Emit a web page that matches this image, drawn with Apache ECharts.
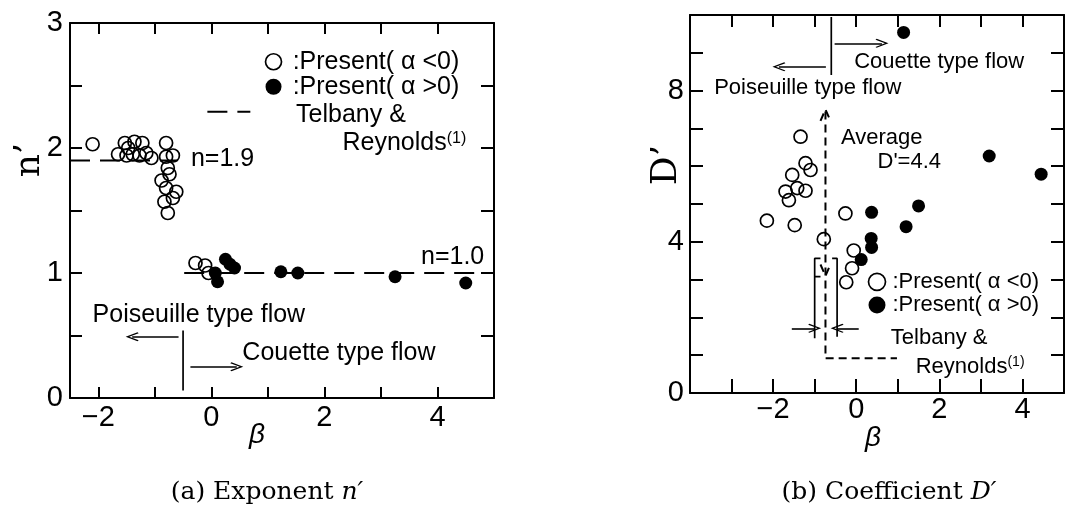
<!DOCTYPE html>
<html><head><meta charset="utf-8">
<script src="https://cdn.jsdelivr.net/npm/echarts@6/dist/echarts.min.js"></script>
<style>html,body{margin:0;padding:0;background:#fff}#c{width:1065px;height:514px}</style>
</head><body><div id="c"></div>
<script>
// ---------- (a) Exponent n' ----------
const leftOpen = [
  [-2.1, 2.03],
  [-1.53, 2.04], [-1.36, 2.05], [-1.22, 2.04], [-1.47, 2.0],
  [-1.65, 1.95], [-1.5, 1.94], [-1.39, 1.95], [-1.27, 1.94], [-1.15, 1.96], [-1.06, 1.92],
  [-0.8, 2.04], [-0.8, 1.93], [-0.68, 1.94], [-0.77, 1.84], [-0.74, 1.79], [-0.88, 1.74],
  [-0.8, 1.68], [-0.62, 1.65], [-0.68, 1.6], [-0.83, 1.57], [-0.77, 1.48],
  [-0.28, 1.08], [-0.11, 1.06], [-0.05, 1.0]
];
const leftFilled = [
  [0.07, 1.0], [0.11, 0.93], [0.25, 1.11], [0.33, 1.07], [0.41, 1.04],
  [1.23, 1.01], [1.53, 1.0], [3.25, 0.97], [4.5, 0.92]
];
const leftRefLines = [           // Telbany & Reynolds n=1.9 / n=1.0
  [[-2.5, 1.9], [-0.6, 1.9]],
  [[-0.48, 1.0], [5.0, 1.0]]
];
const leftSolid = [[[-0.5, 0.54], [-0.5, 0.06]]];
const leftArrows = [
  [[-0.58, 0.49], [-1.40, 0.49]],
  [[-0.37, 0.25], [0.45, 0.25]]
];
const leftTexts = [
  [':Present( α <0)', 1.43, 2.69],
  [':Present( α >0)', 1.43, 2.49],
  ['Telbany &', 1.49, 2.26],
  ['Reynolds{sup|(1)}', 2.31, 2.04],
  ['n=1.9', -0.37, 1.91],
  ['n=1.0', 3.7, 1.13],
  ['Poiseuille type flow', -2.11, 0.66],
  ['Couette type flow', 0.54, 0.36]
];
const leftLegendOpen = [[1.10, 2.69]];
const leftLegendFilled = [[1.10, 2.49]];
const leftLegendDash = [[-0.07, 2.29], [0.69, 2.29]];
const leftXTicks = [-2, -1, 0, 1, 2, 3, 4];
const leftXLabels = [-2, 0, 2, 4];
const leftYTicks = [0.5, 1, 1.5, 2, 2.5];
const leftYLabels = [0, 1, 2, 3];

// ---------- (b) Coefficient D' ----------
const rightOpen = [
  [-2.15, 4.56], [-1.48, 4.44], [-1.34, 6.78], [-1.22, 6.08], [-1.10, 5.9],
  [-1.54, 5.77], [-1.42, 5.42], [-1.22, 5.35], [-1.70, 5.33], [-1.62, 5.1],
  [-0.26, 4.75], [-0.78, 4.07], [-0.06, 3.77], [-0.1, 3.3], [-0.24, 2.93]
];
const rightFilled = [
  [1.14, 9.54], [3.2, 6.27], [4.45, 5.79], [1.5, 4.95], [0.37, 4.78],
  [1.2, 4.4], [0.36, 4.09], [0.37, 3.85], [0.12, 3.53]
];
const rightDashed = [
  [[-0.74, 7.45], [-0.74, 0.92], [0.98, 0.92]],
  [[-0.86, 7.2], [-0.74, 7.5], [-0.62, 7.2]],
  [[-0.86, 3.4], [-0.74, 3.1], [-0.62, 3.4]]
];
const rightSolid = [
  [[-0.6, 9.95], [-0.6, 8.41]],
  [[-0.86, 3.56], [-1.0, 3.56], [-1.0, 1.45]],
  [[-1.0, 3.08], [-0.86, 3.08]],
  [[-0.58, 3.56], [-0.46, 3.56], [-0.46, 1.49]]
];
const rightArrows = [
  [[-0.73, 8.63], [-1.86, 8.63]],
  [[-0.52, 9.25], [0.62, 9.25]],
  [[-1.55, 1.71], [-1.0, 1.71]],
  [[0.06, 1.71], [-0.46, 1.71]]
];
const rightTexts = [
  ['Couette type flow', -0.06, 8.76],
  ['Poiseuille type flow', -3.43, 8.06],
  ['Average', -0.38, 6.74],
  ["D'=4.4", 0.5, 6.12],
  [':Present( α <0)', 0.86, 2.94],
  [':Present( α >0)', 0.86, 2.33],
  ['Telbany &', 0.82, 1.45],
  ['Reynolds{sup|(1)}', 1.42, 0.70]
];
const rightLegendOpen = [[0.5, 2.94]];
const rightLegendFilled = [[0.5, 2.33]];
const rightXTicks = [-3, -2, -1, 0, 1, 2, 3, 4];
const rightXLabels = [-2, 0, 2, 4];
const rightYTicks = [1, 2, 3, 4, 5, 6, 7, 8, 9];
const rightYLabels = [0, 4, 8];

// ---------- build ----------
const SANS = '"Liberation Sans", Arial, Helvetica, sans-serif';
const SERIF = '"DejaVu Serif", "Liberation Serif", serif';
const ARROW = 'path://M5,0 L10,10 L9,11 L5,3 L1,11 L0,10 Z';
const fmt = v => (v < 0 ? '\u2212' + Math.abs(v) : String(v));

function axis(grid, pos, min, max, ticks, labels, len, margin) {
  return {
    type: 'value', gridIndex: grid, position: pos, min: min, max: max,
    axisLine: { show: true, onZero: false, lineStyle: { color: '#000', width: 2 } },
    axisTick: { show: true, inside: true, length: len, customValues: ticks, lineStyle: { color: '#000', width: 2 } },
    axisLabel: labels ? { show: true, customValues: labels, formatter: fmt, color: '#000',
      fontSize: 29, fontFamily: SANS, margin: margin } : { show: false },
    splitLine: { show: false }
  };
}
function circles(ai, data, filled, size) {
  return { type: 'scatter', xAxisIndex: ai, yAxisIndex: ai, data: data, symbol: 'circle',
    symbolSize: size, silent: true, z: 5,
    itemStyle: filled ? { color: '#000', opacity: 1 }
                      : { color: 'rgba(0,0,0,0)', borderColor: '#000', borderWidth: 1.7, opacity: 1 } };
}
function line(ai, pts, dash, w) {
  return { type: 'line', xAxisIndex: ai, yAxisIndex: ai, data: pts, symbol: 'none', silent: true, z: 3,
    lineStyle: { color: '#000', width: w, type: dash || 'solid', opacity: 1 } };
}
function texts(ai, items, size, arrows) {
  return { type: 'scatter', xAxisIndex: ai, yAxisIndex: ai, symbolSize: 1, silent: true, z: 6,
    itemStyle: { color: 'rgba(0,0,0,0)', opacity: 1 },
    data: items.map(t => ({ name: t[0], value: [t[1], t[2]] })),
    label: { show: true, position: 'right', distance: 0, formatter: p => p.name, color: '#000', opacity: 1,
      fontSize: size, fontFamily: SANS,
      rich: { sup: { fontSize: Math.round(size * 0.62), verticalAlign: 'top', fontFamily: SANS, color: '#000' } } },
    markLine: { silent: true, symbol: ['none', ARROW], symbolSize: [9, 13],
      lineStyle: { color: '#000', width: 1.6, type: 'solid', opacity: 1 }, label: { show: false },
      itemStyle: { color: '#000', opacity: 1 },
      data: arrows.map(a => [{ coord: a[0] }, { coord: a[1] }]) }
  };
}

const series = [];
leftRefLines.forEach(s => series.push(line(0, s, [20, 10], 2)));
series.push(line(0, leftLegendDash, [20, 10], 2));
leftSolid.forEach(s => series.push(line(0, s, null, 1.7)));
series.push(circles(0, leftOpen, false, 13));
series.push(circles(0, leftFilled, true, 13));
series.push(circles(0, leftLegendOpen, false, 16));
series.push(circles(0, leftLegendFilled, true, 16));
series.push(texts(0, leftTexts, 25, leftArrows));

rightDashed.forEach(s => series.push(line(2, s, [8, 5], 2)));
rightSolid.forEach(s => series.push(line(2, s, null, 1.7)));
series.push(circles(2, rightOpen, false, 13));
series.push(circles(2, rightFilled, true, 13));
series.push(circles(2, rightLegendOpen, false, 17));
series.push(circles(2, rightLegendFilled, true, 17));
series.push(texts(2, rightTexts, 22, rightArrows));

const chart = echarts.init(document.getElementById('c'));
chart.setOption({
  animation: false,
  backgroundColor: '#fff',
  grid: [
    { left: 70, top: 23, width: 424, height: 375, containLabel: false, outerBoundsMode: 'none' },
    { left: 690, top: 15, width: 374, height: 378, containLabel: false, outerBoundsMode: 'none' }
  ],
  xAxis: [
    axis(0, 'bottom', -2.5, 5, leftXTicks, leftXLabels, 11, 5),
    axis(0, 'top', -2.5, 5, leftXTicks, null, 11, 0),
    axis(1, 'bottom', -4, 5, rightXTicks, rightXLabels, 14, 2),
    axis(1, 'top', -4, 5, rightXTicks, null, 12, 0)
  ],
  yAxis: [
    axis(0, 'left', 0, 3, leftYTicks, leftYLabels, 12, 7),
    axis(0, 'right', 0, 3, leftYTicks, null, 13, 0),
    axis(1, 'left', 0, 10, rightYTicks, rightYLabels, 13, 6),
    axis(1, 'right', 0, 10, rightYTicks, null, 13, 0)
  ],
  series: series,
  graphic: [
    { type: 'text', x: 30, y: 160, rotation: Math.PI / 2,
      style: { text: 'n\u2019', font: '36px ' + SERIF, fill: '#000', align: 'center', verticalAlign: 'middle' } },
    { type: 'text', x: 667, y: 165, rotation: Math.PI / 2,
      style: { text: 'D\u2019', font: '36px ' + SERIF, fill: '#000', align: 'center', verticalAlign: 'middle' } },
    { type: 'text', x: 257, y: 435,
      style: { text: 'β', font: 'italic 28px ' + SANS, fill: '#000', align: 'center', verticalAlign: 'middle' } },
    { type: 'text', x: 873, y: 438,
      style: { text: 'β', font: 'italic 28px ' + SANS, fill: '#000', align: 'center', verticalAlign: 'middle' } },
    { type: 'text', x: 267, y: 492,
      style: { text: '(a) Exponent {i|n\u2032}', font: '25px ' + SERIF, fill: '#000', align: 'center', verticalAlign: 'middle',
        rich: { i: { fontStyle: 'italic', fontSize: 25, fontFamily: SERIF } } } },
    { type: 'text', x: 889, y: 492,
      style: { text: '(b) Coefficient {i|D\u2032}', font: '25px ' + SERIF, fill: '#000', align: 'center', verticalAlign: 'middle',
        rich: { i: { fontStyle: 'italic', fontSize: 25, fontFamily: SERIF } } } }
  ]
});
</script>
</body></html>
